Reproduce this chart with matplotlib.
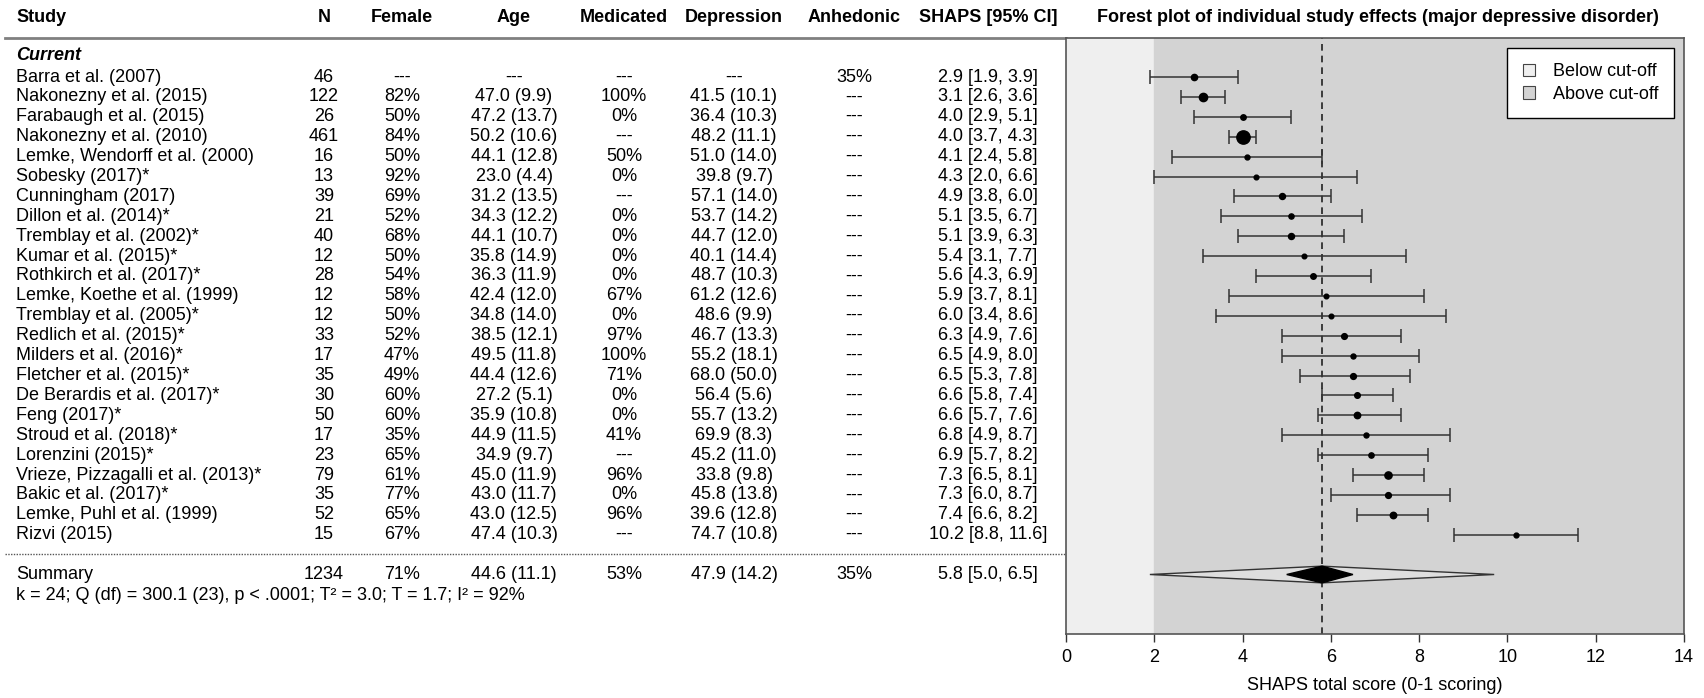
import numpy as np
import matplotlib
matplotlib.use('Agg')
import matplotlib.pyplot as plt
import matplotlib.transforms as mtransforms
from matplotlib.patches import Patch, Polygon

plt.rcParams['font.family'] = ['Liberation Sans', 'DejaVu Sans']

# table data
studies = ["Barra et al. (2007)", "Nakonezny et al. (2015)", "Farabaugh et al. (2015)",
           "Nakonezny et al. (2010)", "Lemke, Wendorff et al. (2000)", "Sobesky (2017)*",
           "Cunningham (2017)", "Dillon et al. (2014)*", "Tremblay et al. (2002)*",
           "Kumar et al. (2015)*", "Rothkirch et al. (2017)*", "Lemke, Koethe et al. (1999)",
           "Tremblay et al. (2005)*", "Redlich et al. (2015)*", "Milders et al. (2016)*",
           "Fletcher et al. (2015)*", "De Berardis et al. (2017)*", "Feng (2017)*",
           "Stroud et al. (2018)*", "Lorenzini (2015)*", "Vrieze, Pizzagalli et al. (2013)*",
           "Bakic et al. (2017)*", "Lemke, Puhl et al. (1999)", "Rizvi (2015)"]
n = [46, 122, 26, 461, 16, 13, 39, 21, 40, 12, 28, 12, 12, 33, 17, 35, 30, 50, 17, 23, 79, 35, 52, 15]
female = ["---", "82%", "50%", "84%", "50%", "92%", "69%", "52%", "68%", "50%", "54%", "58%",
          "50%", "52%", "47%", "49%", "60%", "60%", "35%", "65%", "61%", "77%", "65%", "67%"]
age = ["---", "47.0 (9.9)", "47.2 (13.7)", "50.2 (10.6)", "44.1 (12.8)", "23.0 (4.4)",
       "31.2 (13.5)", "34.3 (12.2)", "44.1 (10.7)", "35.8 (14.9)", "36.3 (11.9)", "42.4 (12.0)",
       "34.8 (14.0)", "38.5 (12.1)", "49.5 (11.8)", "44.4 (12.6)", "27.2 (5.1)", "35.9 (10.8)",
       "44.9 (11.5)", "34.9 (9.7)", "45.0 (11.9)", "43.0 (11.7)", "43.0 (12.5)", "47.4 (10.3)"]
medicated = ["---", "100%", "0%", "---", "50%", "0%", "---", "0%", "0%", "0%", "0%", "67%",
             "0%", "97%", "100%", "71%", "0%", "0%", "41%", "---", "96%", "0%", "96%", "---"]
depression = ["---", "41.5 (10.1)", "36.4 (10.3)", "48.2 (11.1)", "51.0 (14.0)", "39.8 (9.7)",
              "57.1 (14.0)", "53.7 (14.2)", "44.7 (12.0)", "40.1 (14.4)", "48.7 (10.3)",
              "61.2 (12.6)", "48.6 (9.9)", "46.7 (13.3)", "55.2 (18.1)", "68.0 (50.0)",
              "56.4 (5.6)", "55.7 (13.2)", "69.9 (8.3)", "45.2 (11.0)", "33.8 (9.8)",
              "45.8 (13.8)", "39.6 (12.8)", "74.7 (10.8)"]
anhedonic = ["35%"] + ["---"] * 23
shaps = [2.9, 3.1, 4.0, 4.0, 4.1, 4.3, 4.9, 5.1, 5.1, 5.4, 5.6, 5.9, 6.0, 6.3, 6.5, 6.5,
         6.6, 6.6, 6.8, 6.9, 7.3, 7.3, 7.4, 10.2]
ci_lo = [1.9, 2.6, 2.9, 3.7, 2.4, 2.0, 3.8, 3.5, 3.9, 3.1, 4.3, 3.7, 3.4, 4.9, 4.9, 5.3,
         5.8, 5.7, 4.9, 5.7, 6.5, 6.0, 6.6, 8.8]
ci_hi = [3.9, 3.6, 5.1, 4.3, 5.8, 6.6, 6.0, 6.7, 6.3, 7.7, 6.9, 8.1, 8.6, 7.6, 8.0, 7.8,
         7.4, 7.6, 8.7, 8.2, 8.1, 8.7, 8.2, 11.6]

# summary row
summary_cells = ["Summary", "1234", "71%", "44.6 (11.1)", "53%", "47.9 (14.2)", "35%", "5.8 [5.0, 6.5]"]
summary_est, summary_lo, summary_hi = 5.8, 5.0, 6.5
pred_lo, pred_hi = 1.9, 9.7
stats_text = "k = 24; Q (df) = 300.1 (23), p < .0001; T\u00b2 = 3.0; T = 1.7; I\u00b2 = 92%"
cutoff = 2

headers = ["Study", "N", "Female", "Age", "Medicated", "Depression", "Anhedonic", "SHAPS [95% CI]"]
col_x = [16, 324, 402, 514, 624, 734, 854, 988]   # pixel positions in table axes

W, H = 1704, 698
fig = plt.figure(figsize=(W / 100, H / 100), dpi=100)

ax_left, ax_right, ax_top, ax_bot = 1066, 1684, 38, 634
row0_px, row_px = 77, 19.9
ytop = (row0_px - ax_top) / row_px
ybot = -(ax_bot - row0_px) / row_px

# table axes
tab = fig.add_axes([0, (H - ax_bot) / H, ax_left / W, (ax_bot - ax_top) / H])
tab.set_xlim(0, ax_left)
tab.set_ylim(ybot, ytop)
tab.axis('off')

fs = 13
yhead = ytop + (ax_top - 18) / row_px
for j, h in enumerate(headers):
    tab.text(col_x[j], yhead, h, ha='left' if j == 0 else 'center', va='center',
             fontsize=fs, fontweight='bold', clip_on=False)
tab.plot([5, ax_left], [ytop, ytop], color='#808080', lw=2, clip_on=False)
tab.text(col_x[0], 1.1, "Current", fontsize=fs, fontweight='bold', fontstyle='italic', va='center')

ys = -np.arange(len(studies))
for i in range(len(studies)):
    ci_txt = f"{shaps[i]:.1f} [{ci_lo[i]:.1f}, {ci_hi[i]:.1f}]"
    cells = [studies[i], str(n[i]), female[i], age[i], medicated[i], depression[i], anhedonic[i], ci_txt]
    for j, c in enumerate(cells):
        tab.text(col_x[j], ys[i], c, ha='left' if j == 0 else 'center', va='center', fontsize=fs)

tab.plot([5, ax_left], [-23.97, -23.97], color='#555555', lw=1, ls=(0, (1, 1)), clip_on=False)
ysum = -25.0
for j, c in enumerate(summary_cells):
    tab.text(col_x[j], ysum, c, ha='left' if j == 0 else 'center', va='center', fontsize=fs)
tab.text(col_x[0], -26.05, stats_text, ha='left', va='center', fontsize=fs)

# forest plot
ax = fig.add_axes([ax_left / W, (H - ax_bot) / H, (ax_right - ax_left) / W, (ax_bot - ax_top) / H])
ax.set_xlim(0, 14)
ax.set_ylim(ybot, ytop)
ax.axvspan(0, cutoff, color='#efefef', zorder=0)
ax.axvspan(cutoff, 14, color='#d3d3d3', zorder=0)
ax.axvline(summary_est, color='#222222', lw=1.2, ls=(0, (4, 3)), zorder=1)

shaps_a = np.array(shaps)
err = [shaps_a - np.array(ci_lo), np.array(ci_hi) - shaps_a]
ax.errorbar(shaps_a, ys, xerr=err, fmt='none', ecolor='#333333', elinewidth=1.1,
            capsize=5, capthick=1.1, zorder=2)
sizes = (3 + 0.48 * np.sqrt(np.array(n))) / 1.39
for i in range(len(shaps)):
    ax.plot(shaps[i], ys[i], 'o', color='black', ms=sizes[i], zorder=3)

hh = 0.42
outer = Polygon([[pred_lo, ysum], [summary_est, ysum + hh], [pred_hi, ysum], [summary_est, ysum - hh]],
                closed=True, facecolor='#dedede', edgecolor='#333333', lw=1, zorder=2)
inner = Polygon([[summary_lo, ysum], [summary_est, ysum + hh], [summary_hi, ysum], [summary_est, ysum - hh]],
                closed=True, facecolor='black', edgecolor='black', lw=1, zorder=3)
ax.add_patch(outer)
ax.add_patch(inner)

ax.set_yticks([])
ax.set_xticks(np.arange(0, 15, 2))
ax.tick_params(axis='x', labelsize=13, length=6, width=1, color='#333333', pad=5)
for s in ax.spines.values():
    s.set_color('#555555')
    s.set_linewidth(1.2)
ax.set_xlabel("SHAPS total score (0-1 scoring)", fontsize=13, labelpad=8)
title_tr = mtransforms.blended_transform_factory(ax.transAxes, ax.transData)
ax.text((1378 - ax_left) / (ax_right - ax_left), yhead,
        "Forest plot of individual study effects (major depressive disorder)",
        transform=title_tr, ha='center', va='center', fontsize=fs, fontweight='bold', clip_on=False)

handles = [Patch(facecolor='#efefef', edgecolor='#444444', lw=0.8, label='Below cut-off'),
           Patch(facecolor='#d3d3d3', edgecolor='#444444', lw=0.8, label='Above cut-off')]
leg = ax.legend(handles=handles, loc='upper right', fontsize=13, fancybox=False,
                edgecolor='black', framealpha=1, handlelength=0.7, handleheight=0.7,
                handletextpad=1.0, borderaxespad=0.55, borderpad=0.85, labelspacing=0.3)
leg.get_frame().set_linewidth(1)

fig.savefig('out.png', dpi=100)
